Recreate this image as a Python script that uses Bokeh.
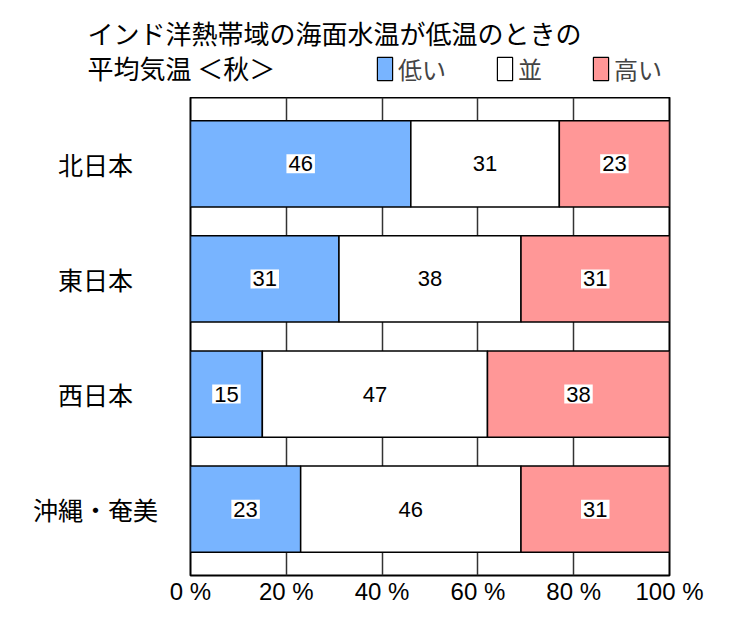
from bokeh.plotting import figure
from bokeh.layouts import column, row
from bokeh.models import (ColumnDataSource, Range1d, FixedTicker, Label, Legend, LegendItem)
from bokeh.core.properties import value
from bokeh.embed import file_html
from bokeh.resources import INLINE

# ---- data ----
regions = ["北日本", "東日本", "西日本", "沖縄・奄美"]
low = [46, 31, 15, 23]
normal = [31, 38, 47, 46]
high = [23, 31, 38, 31]
series_names = ["低い", "並", "高い"]
x_ticks = [0, 20, 40, 60, 80, 100]
title_lines = ["インド洋熱帯域の海面水温が低温のときの", "平均気温 ＜秋＞"]

colors = ["#78B4FF", "#FFFFFF", "#FF9797"]
FONT = "'Liberation Sans', 'Noto Sans CJK JP', sans-serif"
CJK = "'Noto Sans CJK JP', sans-serif"

n = len(regions)
ypos = [n - 1 - i for i in range(n)]
y_range = Range1d(-0.576, n - 1 + 0.576)

src = ColumnDataSource(dict(y=ypos, low=low, normal=normal, high=high, names=regions))

HEAD_H = 97
FW, FH = 479, 478
BOTTOM = 640 - HEAD_H - FH
LEFT_PAD = 30          # room for the "0 %" tick label
LAB_W = 190 - LEFT_PAD  # width of the category-label figure


def clean(f):
    f.background_fill_color = "white"
    f.border_fill_color = "white"
    f.outline_line_color = None
    f.grid.visible = False
    return f


# ---- header (title + legend) ----
head = clean(figure(width=750, height=HEAD_H, output_backend="svg", toolbar_location=None,
                    x_axis_location=None, y_axis_location=None,
                    x_range=Range1d(0, 1), y_range=Range1d(0, 1),
                    frame_width=750, frame_height=HEAD_H,
                    min_border_left=0, min_border_right=0, min_border_top=0,
                    min_border_bottom=0))
for t, cy in zip(title_lines, [32, 67]):
    head.add_layout(Label(x=87, y=HEAD_H - cy, x_units="screen", y_units="screen",
                          text=t, text_font=CJK, text_font_size="26px",
                          text_baseline="middle", text_color="black"))
# legend swatches (a point outside the visible range; only the legend shows them)
dummy = [head.quad(left=-10, right=-9, bottom=-10, top=-9, fill_color=c,
                   line_color="black", line_width=1.2) for c in colors]
legend = Legend(items=[LegendItem(label=series_names[i], renderers=[dummy[i]])
                       for i in range(3)],
                orientation="horizontal", location=(375, HEAD_H - 86),
                glyph_width=19, glyph_height=29, label_standoff=4, spacing=49,
                padding=0, margin=0, border_line_color=None,
                background_fill_alpha=0, label_text_font=CJK,
                label_text_font_size="24px", label_height=21)
head.add_layout(legend, "center")

# ---- category labels ----
lab = clean(figure(width=LAB_W, height=FH + BOTTOM, output_backend="svg",
                   toolbar_location=None, x_axis_location=None, y_axis_location=None,
                   x_range=Range1d(0, 1), y_range=y_range,
                   frame_width=LAB_W - LEFT_PAD, frame_height=FH,
                   min_border_left=LEFT_PAD, min_border_right=0, min_border_top=0,
                   min_border_bottom=BOTTOM))
lab.text(x=[0.5] * n, y=ypos, text=regions, text_align="center", text_baseline="middle",
         text_font=value(CJK), text_font_size="25px", text_color="black")

# ---- main chart ----
p = figure(width=750 - LAB_W, height=FH + BOTTOM, output_backend="svg",
           toolbar_location=None, y_axis_location=None,
           x_range=Range1d(0, 100), y_range=y_range,
           frame_width=FW, frame_height=FH,
           min_border_left=LEFT_PAD, min_border_top=0,
           min_border_right=750 - LAB_W - LEFT_PAD - FW, min_border_bottom=BOTTOM)
p.background_fill_color = "white"
p.border_fill_color = "white"
p.outline_line_color = "black"
p.outline_line_width = 2
p.ygrid.visible = False
p.xgrid.ticker = FixedTicker(ticks=x_ticks)
p.xgrid.grid_line_color = "#333333"
p.xgrid.grid_line_width = 1.5

renderers = p.hbar_stack(["low", "normal", "high"], y="y", height=0.75,
                         source=src, fill_color=colors, line_color="black",
                         line_width=1.5)

# value labels at the middle of each segment
lx, ly, lt = [], [], []
for i in range(n):
    left = 0
    for v in (low[i], normal[i], high[i]):
        lx.append(left + v / 2)
        ly.append(ypos[i])
        lt.append(str(v))
        left += v
p.text(x=lx, y=ly, text=lt, text_align="center", text_baseline="middle",
       text_font=value(FONT), text_font_size="22px", text_color="black",
       background_fill_color="white", padding=2)

xa = p.xaxis[0]
xa.ticker = FixedTicker(ticks=x_ticks)
xa.major_label_overrides = {t: f"{t} %" for t in x_ticks}
xa.axis_line_color = None
xa.major_tick_line_color = None
xa.minor_tick_line_color = None
xa.major_tick_out = 0
xa.major_tick_in = 0
xa.major_label_text_font = FONT
xa.major_label_text_font_size = "24px"
xa.major_label_text_color = "black"
xa.major_label_standoff = 2

layout = column(head, row(lab, p, spacing=0), spacing=0)
open("out.html", "w").write(file_html(layout, INLINE))
